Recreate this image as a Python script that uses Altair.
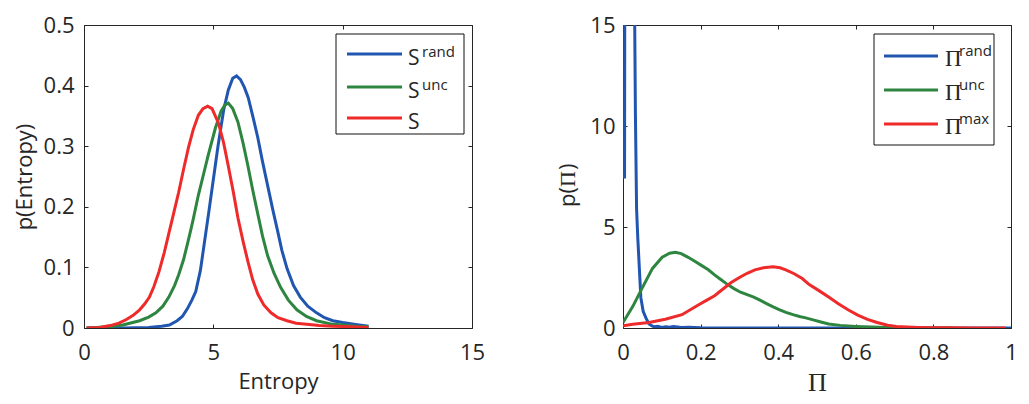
import altair as alt
import pandas as pd

# ---------------- data ----------------
# Left panel: entropy distributions
s_rand_x = [0.1, 1.5, 2.5, 3.0, 3.3, 3.6, 3.8, 4.0, 4.17, 4.32, 4.5, 4.82, 5.0, 5.18, 5.4, 5.58, 5.75, 5.9,
            6.05, 6.2, 6.35, 6.55, 6.72, 6.9, 7.1, 7.3, 7.48, 7.65, 7.85, 8.1, 8.36, 8.65, 8.99, 9.3, 9.62,
            10.0, 10.5, 11.0]
s_rand_y = [0.0, 0.0, 0.001, 0.003, 0.005, 0.012, 0.019, 0.032, 0.046, 0.06, 0.095, 0.19, 0.245, 0.3, 0.36,
            0.393, 0.412, 0.416, 0.41, 0.397, 0.38, 0.345, 0.314, 0.275, 0.235, 0.195, 0.161, 0.128, 0.098,
            0.07, 0.051, 0.036, 0.025, 0.017, 0.012, 0.009, 0.006, 0.003]

s_unc_x = [0.1, 1.0, 1.5, 2.15, 2.5, 2.78, 3.05, 3.28, 3.5, 3.66, 3.85, 4.04, 4.2, 4.42, 4.6, 4.8, 5.08, 5.3,
           5.45, 5.58, 5.75, 5.95, 6.15, 6.34, 6.52, 6.72, 6.9, 7.1, 7.35, 7.6, 7.9, 8.23, 8.6, 8.99, 9.62,
           10.0, 10.5, 11.0]
s_unc_y = [0.0, 0.002, 0.005, 0.012, 0.018, 0.025, 0.036, 0.051, 0.07, 0.088, 0.113, 0.146, 0.175, 0.219,
           0.25, 0.285, 0.33, 0.358, 0.368, 0.371, 0.362, 0.34, 0.305, 0.267, 0.228, 0.188, 0.152, 0.119,
           0.09, 0.067, 0.046, 0.03, 0.019, 0.012, 0.006, 0.005, 0.003, 0.002]

s_x = [0.1, 0.6, 1.01, 1.35, 1.64, 1.9, 2.15, 2.35, 2.53, 2.7, 2.9, 3.1, 3.28, 3.47, 3.66, 3.85, 4.04, 4.22,
       4.42, 4.6, 4.78, 4.95, 5.2, 5.4, 5.58, 5.77, 5.95, 6.15, 6.34, 6.52, 6.72, 6.95, 7.23, 7.5, 7.85,
       8.2, 8.61, 9.1, 9.62, 10.3, 11.0]
s_y = [0.0, 0.001, 0.004, 0.008, 0.014, 0.021, 0.03, 0.04, 0.051, 0.068, 0.093, 0.124, 0.156, 0.19, 0.224,
       0.262, 0.298, 0.327, 0.351, 0.362, 0.366, 0.362, 0.338, 0.305, 0.267, 0.225, 0.182, 0.143, 0.109,
       0.08, 0.056, 0.038, 0.025, 0.017, 0.012, 0.008, 0.006, 0.004, 0.003, 0.002, 0.001]

# Right panel: Pi distributions
p_rand_x = [0.004, 0.006, 0.027, 0.030, 0.032, 0.035, 0.038, 0.042, 0.046, 0.052, 0.059, 0.067, 0.075,
            0.08, 0.09, 0.1, 0.11, 0.12, 0.13, 0.14, 0.15, 0.17, 0.2, 0.3, 0.5, 0.7, 1.0]
p_rand_y = [7.4, 40.0, 40.0, 15.5, 10.6, 5.9, 4.5, 3.0, 1.5, 0.82, 0.5, 0.2, 0.1, 0.06, 0.08, 0.03, 0.06,
            0.04, 0.07, 0.05, 0.02, 0.04, 0.01, 0.005, 0.0, 0.0, 0.0]

p_unc_x = [0.0, 0.025, 0.05, 0.076, 0.101, 0.12, 0.135, 0.15, 0.168, 0.185, 0.202, 0.22, 0.236, 0.252, 0.269,
           0.286, 0.303, 0.32, 0.337, 0.353, 0.37, 0.387, 0.404, 0.42, 0.438, 0.455, 0.471, 0.49, 0.51, 0.53,
           0.56, 0.6, 0.64, 0.68, 0.72, 0.77, 0.85]
p_unc_y = [0.27, 1.06, 2.0, 2.95, 3.5, 3.7, 3.75, 3.68, 3.5, 3.3, 3.1, 2.88, 2.63, 2.4, 2.16, 1.95, 1.77, 1.65,
           1.53, 1.38, 1.21, 1.05, 0.9, 0.77, 0.66, 0.57, 0.5, 0.4, 0.3, 0.2, 0.13, 0.08, 0.045, 0.02, 0.01,
           0.003, 0.0]

p_max_x = [0.0, 0.025, 0.067, 0.109, 0.152, 0.194, 0.215, 0.236, 0.257, 0.278, 0.3, 0.32, 0.34, 0.362, 0.387,
           0.405, 0.421, 0.44, 0.462, 0.48, 0.505, 0.53, 0.555, 0.58, 0.605, 0.63, 0.655, 0.682, 0.705, 0.732,
           0.76, 0.8, 0.85, 0.9, 0.985]
p_max_y = [0.11, 0.19, 0.27, 0.43, 0.66, 1.14, 1.37, 1.6, 1.92, 2.24, 2.5, 2.71, 2.88, 2.98, 3.03, 2.98, 2.87,
           2.7, 2.45, 2.15, 1.85, 1.53, 1.2, 0.9, 0.64, 0.43, 0.27, 0.14, 0.08, 0.05, 0.03, 0.016, 0.008,
           0.003, 0.0]

left_xticks = [0, 5, 10, 15]
left_yticks = [0, 0.1, 0.2, 0.3, 0.4, 0.5]
right_xticks = [0, 0.2, 0.4, 0.6, 0.8, 1]
right_yticks = [0, 5, 10, 15]

left_main = ["S", "S", "S"]
left_sup = ["rand", "unc", ""]
right_main = ["\u03a0", "\u03a0", "\u03a0"]
right_sup = ["rand", "unc", "max"]

colors = ["#2156b0", "#2e8540", "#ee2a2a"]

# ---------------- styling ----------------
W, H = 388, 303
FONT = "Open Sans"
SERIF = "Liberation Serif"
AX = "#262626"
FS = 22
one = pd.DataFrame({"k": [0]})


def make_panel(series, xdom, ydom, xticks, yticks, xtitle, xtitle_font, xtitle_size, xtitle_pad, ytitle,
               leg_box, leg_line_x, leg_ys, main_txt, main_font, main_size, main_x, main_dy,
               sup_txt, sup_x, sup_dy, ylabel_pad, ytitle_pad, extra=None):
    xs = alt.Scale(domain=xdom, nice=False, zero=False)
    ys = alt.Scale(domain=ydom, nice=False, zero=False)
    xaxis = alt.Axis(orient="bottom", values=xticks, format="~g", offset=-4, tickSize=4, domain=False,
                     grid=False, labelFlush=False, labelPadding=14, title=xtitle, titlePadding=xtitle_pad,
                     titleFont=xtitle_font, titleFontSize=xtitle_size, titleFontWeight="normal",
                     titleColor=AX)
    yaxis = alt.Axis(orient="left", values=yticks, format="~g", offset=-4, tickSize=4, domain=False,
                     grid=False, labelFlush=False, labelPadding=ylabel_pad, title=ytitle,
                     titlePadding=ytitle_pad, titleFontWeight="normal", titleColor=AX)
    lines = []
    for (xv, yv), c in zip(series, colors):
        df = pd.DataFrame({"x": xv, "y": yv})
        lines.append(alt.Chart(df).mark_line(color=c, strokeWidth=3, clip=True).encode(
            x=alt.X("x:Q", scale=xs, axis=xaxis),
            y=alt.Y("y:Q", scale=ys, axis=yaxis)))
    inner = alt.layer(*lines)
    dfd = pd.DataFrame({"x": series[0][0], "y": series[0][1]})
    top_ax = alt.Axis(orient="top", values=xticks, offset=-4, tickSize=4, domain=False, labels=False,
                      grid=False, title=None)
    right_ax = alt.Axis(orient="right", values=yticks, offset=-4, tickSize=4, domain=False, labels=False,
                        grid=False, title=None)
    dummy = alt.Chart(dfd).mark_line(opacity=0, clip=True).encode(
        x=alt.X("x:Q", scale=xs, axis=top_ax),
        y=alt.Y("y:Q", scale=ys, axis=right_ax))
    layers = [inner, dummy]
    # legend
    layers.append(alt.Chart(one).mark_rect(fill="white", stroke="#111111", strokeWidth=1).encode(
        x=alt.value(leg_box[0]), x2=alt.value(leg_box[1]), y=alt.value(leg_box[2]), y2=alt.value(leg_box[3])))
    for i, c in enumerate(colors):
        ly = leg_ys[i]
        layers.append(alt.Chart(one).mark_rule(color=c, strokeWidth=3).encode(
            x=alt.value(leg_line_x[0]), x2=alt.value(leg_line_x[1]), y=alt.value(ly)))
        layers.append(alt.Chart(one).mark_text(text=main_txt[i], font=main_font, fontSize=main_size,
                                               align="left", baseline="alphabetic", color=AX).encode(
            x=alt.value(main_x), y=alt.value(ly + main_dy)))
        if sup_txt[i]:
            layers.append(alt.Chart(one).mark_text(text=sup_txt[i], font=FONT, fontSize=15,
                                                   align="left", baseline="alphabetic", color=AX).encode(
                x=alt.value(sup_x), y=alt.value(ly + sup_dy)))
    if extra:
        layers.extend(extra)
    return alt.layer(*layers).resolve_axis(x="independent", y="independent").properties(width=W, height=H)


left = make_panel(
    [(s_rand_x, s_rand_y), (s_unc_x, s_unc_y), (s_x, s_y)],
    [0, 15], [0, 0.5], left_xticks, left_yticks, "Entropy", FONT, FS, 8, "p(Entropy)",
    [252, 380, 9, 109], [263, 318], [29, 62, 93], left_main, FONT, 21, 324, 11,
    left_sup, 338, 3, 10, 7)

ytitle_parts = [
    alt.Chart(one).mark_text(text="p(", font=FONT, fontSize=FS, angle=270, align="left",
                             baseline="alphabetic", color=AX).encode(x=alt.value(-48), y=alt.value(182)),
    alt.Chart(one).mark_text(text="\u03a0", font=SERIF, fontSize=FS, angle=270, align="left",
                             baseline="alphabetic", color=AX).encode(x=alt.value(-48), y=alt.value(162)),
    alt.Chart(one).mark_text(text=")", font=FONT, fontSize=FS, angle=270, align="left",
                             baseline="alphabetic", color=AX).encode(x=alt.value(-48), y=alt.value(145)),
]

right = make_panel(
    [(p_rand_x, p_rand_y), (p_unc_x, p_unc_y), (p_max_x, p_max_y)],
    [0, 1], [0, 15], right_xticks, right_yticks, "\u03a0", SERIF, 26, 6, None,
    [251, 371, 9, 120], [261, 315], [31, 65, 99], right_main, SERIF, 23, 322, 10,
    right_sup, 336, 0, 8, 10, extra=ytitle_parts)

chart = alt.hconcat(left, right, spacing=70).properties(
    padding={"left": 4, "top": 5, "right": 0, "bottom": 0}
).configure_view(
    stroke=AX, strokeWidth=1
).configure_axis(
    labelFont=FONT, labelFontSize=FS, labelColor=AX, tickColor=AX, titleFont=FONT, titleFontSize=FS
)

chart.save("out.html", embed_options={"renderer": "svg", "actions": False})
